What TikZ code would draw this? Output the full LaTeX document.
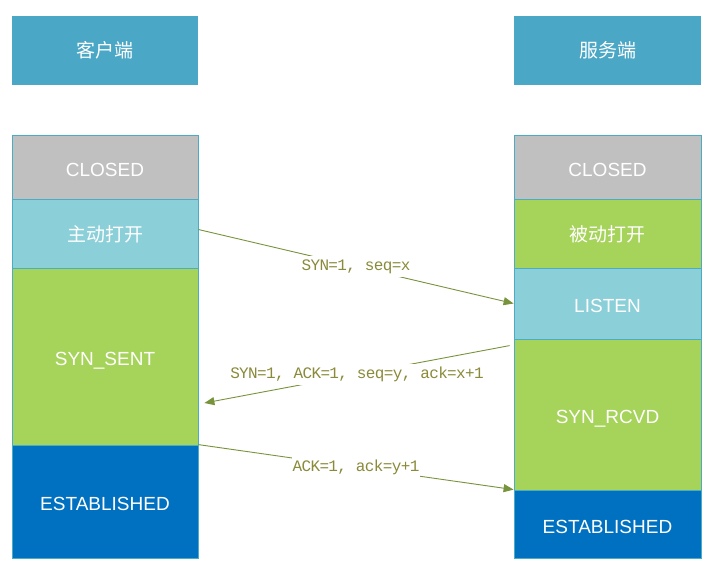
\documentclass[tikz,border=0pt]{standalone}
\usepackage{fontspec}
\setsansfont{Liberation Sans}
\newfontfamily\cjk{Noto Sans CJK SC}
\newfontfamily\lblfont[LetterSpace=-4]{Liberation Mono}
\usetikzlibrary{arrows.meta,positioning}
\definecolor{hdrblue}{HTML}{4BA7C6}
\definecolor{edgeblue}{HTML}{4BACC6}
\definecolor{stgray}{HTML}{C0C0C0}
\definecolor{stlight}{HTML}{8BCFD8}
\definecolor{stgreen}{HTML}{A6D35A}
\definecolor{stblue}{HTML}{0070C0}
\definecolor{olive}{HTML}{77933C}
\definecolor{lbltext}{HTML}{8A8A3A}
\begin{document}
\begin{tikzpicture}[x=1pt,y=-1pt,
  hdr/.style={draw=none,fill=hdrblue,text=white,minimum width=186pt,minimum height=69pt,inner sep=0pt,font=\cjk\fontsize{19}{21}\selectfont},
  stbox/.style={draw=edgeblue,line width=0.8pt,text=white,minimum width=186pt,inner sep=0pt,text height=18pt,text depth=0pt,font=\sffamily\fontsize{19}{21}\selectfont},
  cjkbox/.style={stbox,text height=16pt,font=\cjk\fontsize{19}{21}\selectfont},
  msg/.style={draw=olive,line width=0.9pt,-{Triangle[length=10pt,width=8pt]}},
  msglbl/.style={fill=white,inner xsep=1pt,inner ysep=3pt,text=lbltext,font=\lblfont\fontsize{16}{18}\selectfont}]
\useasboundingbox (0,0) rectangle (715,568);
% headers
\node[hdr] (lhdr) at (105,50.5) {客户端};
\node[hdr,minimum width=187pt] (rhdr) at (607.5,50.5) {服务端};
% client column
\node[stbox,fill=stgray,minimum height=64pt] (lclosed) at (105,167) {CLOSED};
\node[cjkbox,fill=stlight,minimum height=69pt] (lopen) at (105,233.5) {主动打开};
\node[stbox,fill=stgreen,minimum height=177pt] (ssent) at (105,356.5) {SYN\_SENT};
\node[stbox,fill=stblue,minimum height=113pt] (lest) at (105,501.5) {ESTABLISHED};
% server column
\node[stbox,fill=stgray,minimum width=187pt,minimum height=64pt] (rclosed) at (607.5,167) {CLOSED};
\node[cjkbox,fill=stgreen,minimum width=187pt,minimum height=69pt] (ropen) at (607.5,233.5) {被动打开};
\node[stbox,fill=stlight,minimum width=187pt,minimum height=71pt] (listen) at (607.5,303.5) {LISTEN};
\node[stbox,fill=stgreen,minimum width=187pt,minimum height=151pt] (srcvd) at (607.5,414.5) {SYN\_RCVD};
\node[stbox,fill=stblue,minimum width=187pt,minimum height=68pt] (rest) at (607.5,524) {ESTABLISHED};
% messages
\draw[msg] ([yshift=4pt]lopen.east) -- node[msglbl] {SYN=1, seq=x} (listen.west);
\draw[msg] ([xshift=-4pt,yshift=-7pt]srcvd.north west) -- node[msglbl] {SYN=1, ACK=1, seq=y, ack=x+1} ([xshift=6pt,yshift=-46.5pt]ssent.east);
\draw[msg] (lest.north east) -- node[msglbl] {ACK=1, ack=y+1} (rest.north west);
\end{tikzpicture}
\end{document}
